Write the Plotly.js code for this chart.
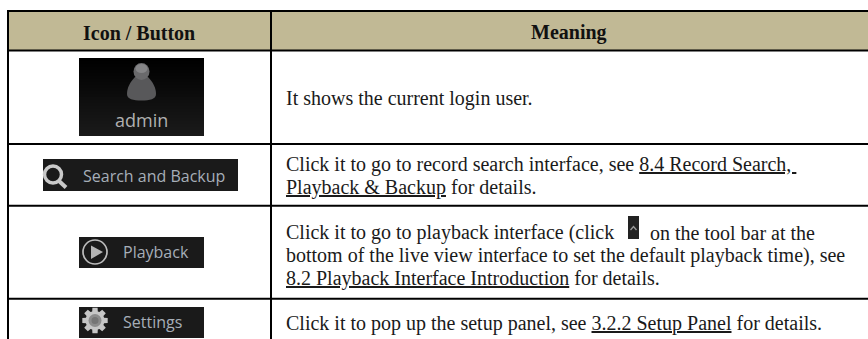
<!DOCTYPE html>
<html>
<head>
<meta charset="utf-8">
<script src="https://cdn.plot.ly/plotly-3.0.1.min.js"></script>
<style>html,body{margin:0;padding:0;background:#fff;overflow:hidden}</style>
</head>
<body>
<div id="chart" style="width:868px;height:339px"></div>
<script>
var headers = ["Icon / Button", "Meaning"];
var buttonLabels = ["admin", "Search and Backup", "Playback", "Settings"];
var meaningLines = [
  "It shows the current login user.",
  "Click it to go to record search interface, see <u>8.4 Record Search,\u00a0</u>",
  "<u>Playback &amp; Backup</u> for details.",
  "Click it to go to playback interface (click",
  "on the tool bar at the",
  "bottom of the live view interface to set the default playback time), see",
  "<u>8.2 Playback Interface Introduction</u> for details.",
  "Click it to pop up the setup panel, see <u>3.2.2 Setup Panel</u> for details."
];
var BLACK = "#000000", HEAD = "#c1b995", SERIF = "Liberation Serif", SANS = "Open Sans";
var W = 868, H = 339;

var shapes = [], annotations = [];
function rect(x0, y0, x1, y1, fill) {
  shapes.push({type:"rect", xref:"x", yref:"y", x0:x0, y0:y0, x1:x1, y1:y1, fillcolor:fill, line:{width:0}, layer:"above"});
}
function rule(x0, y0, x1, y1, color, w) {
  shapes.push({type:"line", xref:"x", yref:"y", x0:x0, y0:y0, x1:x1, y1:y1, line:{color:color, width:w}, layer:"above"});
}
function circ(cx, cy, rx, ry, fill, lineColor, w) {
  shapes.push({type:"circle", xref:"x", yref:"y", x0:cx-rx, y0:cy-ry, x1:cx+rx, y1:cy+ry, fillcolor:fill,
    line:{color:lineColor||"rgba(0,0,0,0)", width:w||0}, layer:"above"});
}
function poly(d, fill) {
  shapes.push({type:"path", xref:"x", yref:"y", path:d, fillcolor:fill, line:{width:0}, layer:"above"});
}
function text(x, baseline, s, size, family, color, anchor) {
  annotations.push({xref:"x", yref:"y", x:x, y:baseline - size*0.31, text:s, showarrow:false, xanchor:anchor||"left",
    yanchor:"middle", align:anchor==="center"?"center":"left", borderpad:0, font:{family:family, size:size, color:color}});
}

// header band and grid
rect(8, 11, W, 50.5, HEAD);
[11, 50.5, 144, 205.7, 298.7].forEach(function(y){ rule(7, y, W, y, BLACK, 2); });
[8, 271].forEach(function(x){ rule(x, 10, x, H, BLACK, 2); });

// header text
text(139, 39, "<b>"+headers[0]+"</b>", 20, SERIF, "#111", "center");
text(569, 39, "<b>"+headers[1]+"</b>", 20, SERIF, "#111", "center");

// meaning text
var tx = 285, ts = 20, tc = "#1a1a1a";
text(tx, 105, meaningLines[0], ts, SERIF, tc);
text(tx, 171, meaningLines[1], ts, SERIF, tc);
text(tx, 193.5, meaningLines[2], ts, SERIF, tc);
text(tx, 239, meaningLines[3], ts, SERIF, tc);
text(649, 239, meaningLines[4], ts, SERIF, tc);
text(tx, 262, meaningLines[5], ts, SERIF, tc);
text(tx, 285, meaningLines[6], ts, SERIF, tc);
text(tx, 330, meaningLines[7], ts, SERIF, tc);

// admin button (vertical fade from black)
for (var i = 0; i < 26; i++) {
  var g = Math.round(i * 26 / 25), c = "rgb("+g+","+g+","+g+")";
  rect(79, 58 + i*3, 204, 58 + (i+1)*3, c);
}
poly("M 135 77 C 130 82 127 88 127 94 C 127 99 133 100.5 141.5 100.5 C 150 100.5 156 99 156 94 C 156 88 153 82 148 77 Z", "#58585a");
circ(141.5, 71.5, 8, 8.5, "#6a6a6c");
circ(141.5, 68.5, 6, 4.5, "#858587");
text(141.5, 126, buttonLabels[0], 18, SANS, "#b0b0b0", "center");

// search button
rect(43, 159, 238, 191, "#1a1a1a");
circ(53, 174.5, 8.5, 8.5, "rgba(0,0,0,0)", "#c9c9c9", 3.5);
rule(59, 181, 66, 187.5, "#c9c9c9", 4);
text(82, 181, buttonLabels[1], 16, SANS, "#a6aeb8");

// playback button
rect(79, 237, 204, 268, "#1a1a1a");
circ(95, 252, 12, 12, "rgba(0,0,0,0)", "#bcbcbc", 1.7);
poly("M 91 245.5 L 103 252 L 91 259 Z", "#b5b5b5");
text(122, 256.5, buttonLabels[2], 16, SANS, "#a6aeb8");

// settings button
rect(79, 307, 204, 338, "#1a1a1a");
(function(){
  var cx = 95, cy = 320.5, teeth = 8, d = "";
  for (var k = 0; k < teeth; k++) {
    var a = k * 2*Math.PI/teeth;
    [[-0.3,9.5],[-0.2,13],[0.2,13],[0.3,9.5]].forEach(function(p, j){
      var ang = a + p[0];
      d += ((k===0 && j===0) ? "M " : "L ") + (cx + p[1]*Math.cos(ang)).toFixed(1) + " " + (cy + p[1]*Math.sin(ang)).toFixed(1) + " ";
    });
  }
  poly(d + "Z", "#c6c6c6");
  circ(cx, cy, 6.5, 6.5, "#8c8c8c");
  circ(cx, cy, 3.5, 3.5, "#757575");
})();
text(121.5, 327, buttonLabels[3], 16, SANS, "#a6aeb8");

// inline toolbar icon
rect(628, 216, 639, 239, "#222222");
shapes.push({type:"path", xref:"x", yref:"y", path:"M 630.5 230 L 633.5 226.5 L 636.5 230", line:{color:"#9a9a9a", width:1.3}, layer:"above"});

Plotly.newPlot("chart", [], {
  width: W, height: H,
  margin: {l:0, r:0, t:0, b:0},
  paper_bgcolor: "#ffffff", plot_bgcolor: "#ffffff",
  showlegend: false,
  xaxis: {range:[0, W], visible:false, fixedrange:true},
  yaxis: {range:[H, 0], visible:false, fixedrange:true},
  shapes: shapes,
  annotations: annotations
}, {staticPlot:true, displayModeBar:false});
</script>
</body>
</html>
